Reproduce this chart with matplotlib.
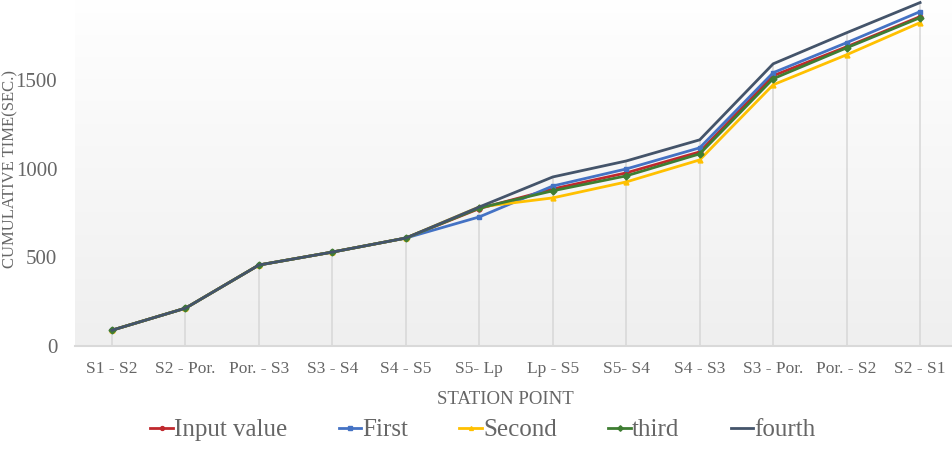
import numpy as np
import matplotlib
matplotlib.use("Agg")
import matplotlib.pyplot as plt

stations = ["S1 - S2", "S2 - Por.", "Por. - S3", "S3 - S4", "S4 - S5", "S5- Lp",
            "Lp - S5", "S5- S4", "S4 - S3", "S3 - Por.", "Por. - S2", "S2 - S1"]

input_value = [90, 214, 457, 530, 609, 775, 885, 976, 1094, 1523, 1686, 1856]
first = [90, 214, 457, 530, 609, 728, 902, 998, 1117, 1540, 1709, 1884]
second = [90, 214, 457, 530, 609, 784, 835, 925, 1049, 1472, 1641, 1822]
third = [90, 214, 457, 530, 609, 778, 875, 959, 1083, 1506, 1680, 1850]
fourth = [90, 214, 457, 530, 609, 784, 953, 1043, 1162, 1590, 1765, 1935]

plt.rcParams['font.family'] = ['Liberation Serif', 'DejaVu Serif']
grey = '#666666'

fig = plt.figure(figsize=(9.53, 4.49), dpi=100)
ax = fig.add_axes([0.079, 0.229, 0.925, 0.791])

x = np.arange(len(stations))

# gradient background like the excel plot area
grad = np.linspace(0, 1, 256).reshape(-1, 1)
ax.imshow(grad, extent=[0, 1, 0, 1], transform=ax.transAxes, aspect='auto',
          cmap=matplotlib.colors.LinearSegmentedColormap.from_list('g', ['#efefef', '#ffffff']),
          origin='lower', zorder=0)

# drop lines
tops = np.max([input_value, first, second, third, fourth], axis=0)
ax.vlines(x, 0, tops, color='#d9d9d9', lw=1.2, zorder=1)

ax.plot(x, input_value, color='#c0282d', marker='o', ms=3.5, lw=2, label='Input value', zorder=3)
ax.plot(x, first, color='#4472c4', marker='s', ms=3.5, lw=2, label='First', zorder=3)
ax.plot(x, second, color='#ffc000', marker='^', ms=3.5, lw=2, label='Second', zorder=3)
ax.plot(x, third, color='#3e7d32', marker='D', ms=3.5, lw=2, label='third', zorder=3)
ax.plot(x, fourth, color='#44546a', lw=2, label='fourth', zorder=4)

ax.set_xlim(-0.5, 11.5)
ax.set_ylim(0, 2000)
ax.set_yticks([0, 500, 1000, 1500, 2000])
ax.set_xticks(x)
ax.set_xticklabels(stations)
ax.tick_params(axis='x', length=0, pad=11, labelsize=12.5, colors=grey)
ax.tick_params(axis='y', length=0, pad=13, labelsize=15, colors=grey)

for s in ['top', 'right', 'left']:
    ax.spines[s].set_visible(False)
ax.spines['bottom'].set_color('#d9d9d9')
ax.spines['bottom'].set_linewidth(1.5)

fig.text(505 / 953, 1 - 399 / 449, 'STATION POINT', ha='center', va='center',
         fontsize=13.5, color=grey)
fig.text(10 / 953, 1 - 169 / 449, 'CUMULATIVE TIME(SEC.)', rotation=90, ha='center',
         va='center', fontsize=12, color=grey)

fig.legend(loc='center', bbox_to_anchor=(483 / 953, 1 - 430 / 449), ncol=5,
           frameon=False, fontsize=18, handlelength=0.9, handletextpad=0.05,
           columnspacing=2.05, labelcolor=grey, markerscale=0.8,
           borderpad=0, borderaxespad=0)

fig.savefig('out.png', dpi=100)
